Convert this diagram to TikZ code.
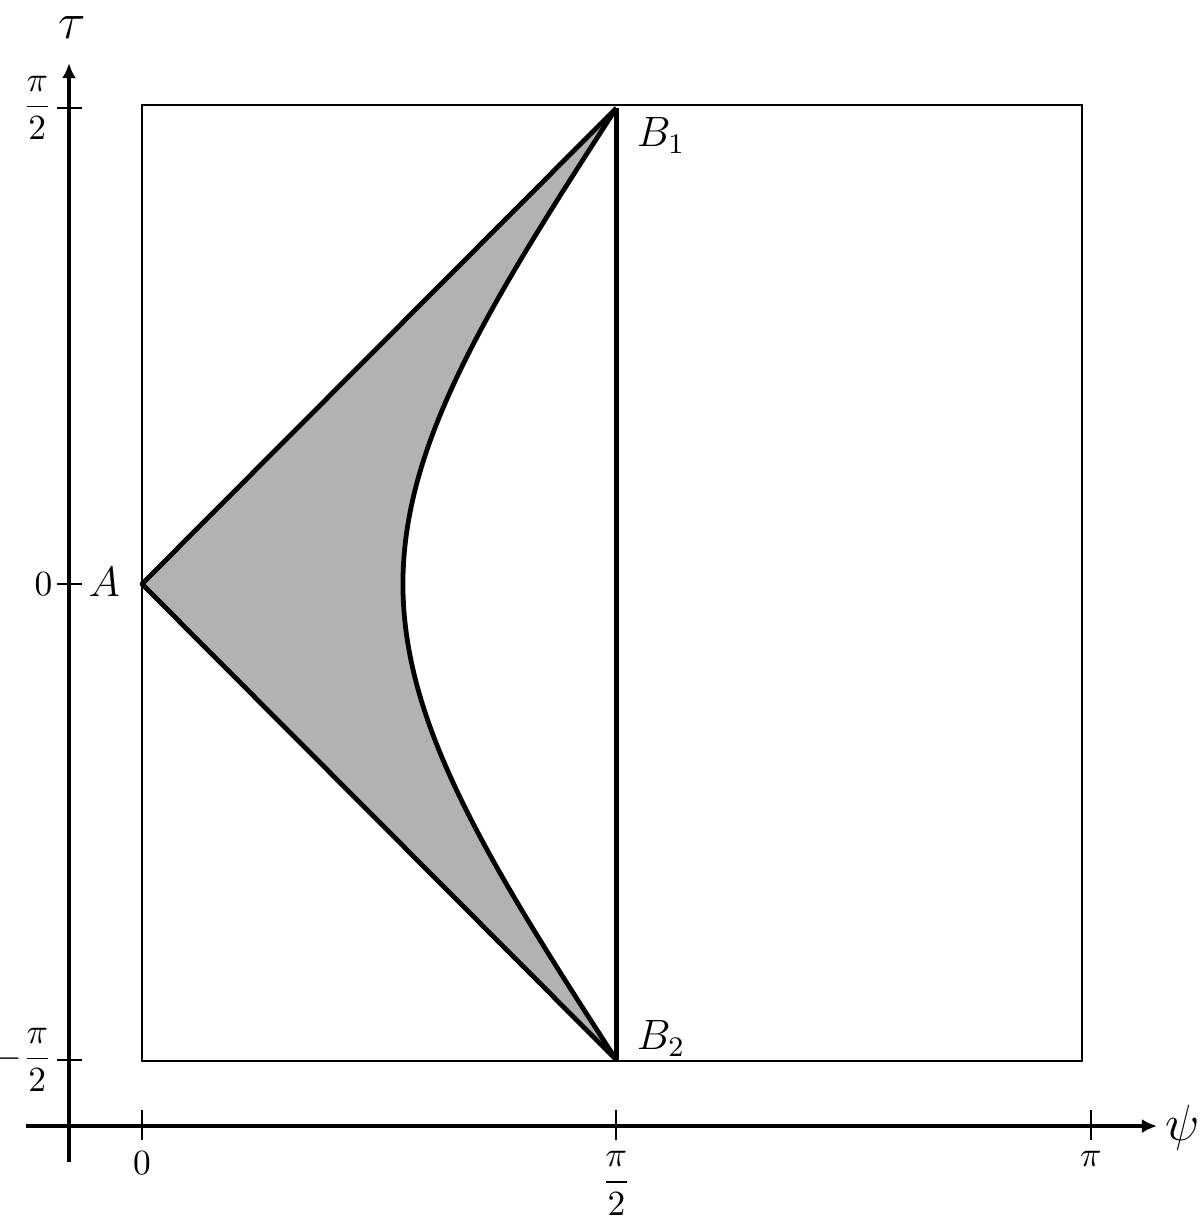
\documentclass[tikz,border=0pt]{standalone}
\usepackage{amsmath}
\usetikzlibrary{arrows.meta}
\tikzset{
  axis/.style={line width=1.1pt,-{Latex[length=0.15cm,width=0.14cm]}},
  tickmark/.style={line width=0.6pt},
  frame/.style={line width=0.6pt},
  heavy/.style={line width=1.35pt,line join=round},
  ticklabel/.style={inner sep=0pt},
  ptlabel/.style={inner sep=0pt,font=\large},
  axlabel/.style={inner sep=0pt,font=\Large}
}
\begin{document}
\begin{tikzpicture}[x=3cm,y=3.01cm]
\useasboundingbox (-0.4702,-2.1188) rectangle (3.5033,1.9274);
% named points
\coordinate (A) at (0,0);
\coordinate (B1) at ({pi/2},{pi/2});
\coordinate (B2) at ({pi/2},{-pi/2});
\coordinate (xs) at (-0.384,-1.789);
\coordinate (xe) at (3.361,-1.789);
\coordinate (ys) at (-0.2417,-1.908);
\coordinate (ye) at (-0.2417,1.719);
% frame
\draw[frame] (0,-1.574) rectangle (3.113,1.581);
% shaded region
\fill[black!30] (A) -- plot[domain=90:-90,samples=120] ({rad(acos(0.6494*cos(\x)))},{rad(\x)}) -- cycle;
% heavy outlines
\draw[heavy] (B1) -- (A) -- (B2);
\draw[heavy] plot[domain=90:-90,samples=120] ({rad(acos(0.6494*cos(\x)))},{rad(\x)});
\draw[heavy] (B1) -- (B2);
% axes
\draw[axis] (xs) -- (xe);
\draw[axis] (ys) -- (ye);
% ticks on tau axis
\foreach \t/\lab in {{pi/2}/{\dfrac{\pi}{2}}, 0/0, {-pi/2}/{-\dfrac{\pi}{2}}}{
  \draw[tickmark] (-0.281,{\t}) -- (-0.199,{\t});
  \node[ticklabel,anchor=east] at (-0.295,{\t}) {$\lab$};
}
% ticks on psi axis
\foreach \p/\lab in {0/0, {pi/2}/{\dfrac{\pi}{2}}, {pi}/{\pi}}{
  \draw[tickmark] ({\p},-1.736) -- ({\p},-1.835);
  \node[ticklabel,anchor=north] at ({\p},-1.871) {$\lab$};
}
% labels
\node[ptlabel,anchor=east] (lA) at (-0.07,0.005) {$A$};
\node[ptlabel,anchor=north west] (lB1) at (1.636,1.541) {$B_1$};
\node[ptlabel,anchor=north west] (lB2) at (1.636,-1.439) {$B_2$};
\node[axlabel] (ltau) at (-0.232,1.835) {$\tau$};
\node[axlabel] (lpsi) at (3.447,-1.795) {$\psi$};
\end{tikzpicture}
\end{document}
